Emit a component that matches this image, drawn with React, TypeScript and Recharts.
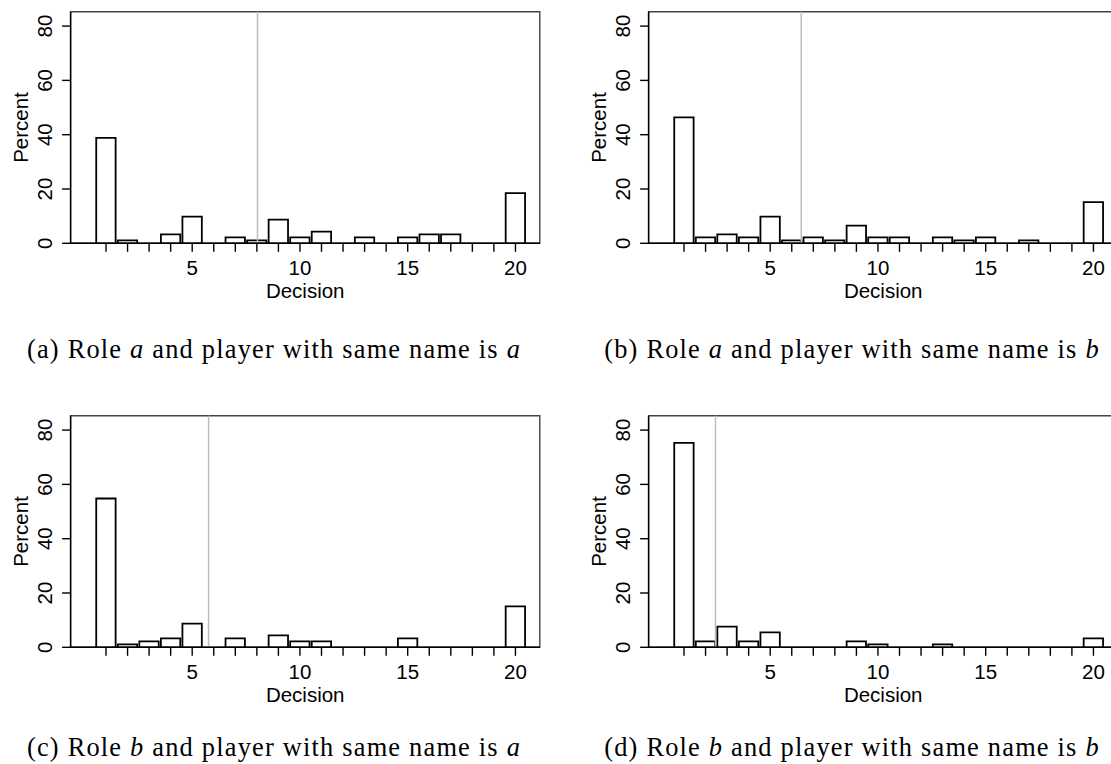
import React from 'react';
import { BarChart, Bar, XAxis, YAxis, ReferenceLine, ReferenceArea } from 'recharts';

// decision values 1..20, percent of subjects per decision
const decisions = [1, 2, 3, 4, 5, 6, 7, 8, 9, 10, 11, 12, 13, 14, 15, 16, 17, 18, 19, 20];
const yTicks = [0, 20, 40, 60, 80];
const labelledTicks = [5, 10, 15, 20];

const pctA = [38.8, 1.1, 0, 3.3, 9.8, 0, 2.2, 1.1, 8.7, 2.2, 4.3, 0, 2.2, 0, 2.2, 3.3, 3.3, 0, 0, 18.5];
const pctB = [46.4, 2.2, 3.3, 2.2, 9.8, 1.1, 2.2, 1.1, 6.5, 2.2, 2.2, 0, 2.2, 1.1, 2.2, 0, 1.1, 0, 0, 15.2];
const pctC = [54.8, 1.1, 2.2, 3.3, 8.7, 0, 3.3, 0, 4.4, 2.2, 2.2, 0, 0, 0, 3.3, 0, 0, 0, 0, 15.1];
const pctD = [75.3, 2.2, 7.6, 2.2, 5.5, 0, 0, 0, 2.2, 1.1, 0, 0, 1.1, 0, 0, 0, 0, 0, 0, 3.3];

// grey line = mean decision
const meanA = 8.03;
const meanB = 6.44;
const meanC = 5.76;
const meanD = 2.46;

const X_MIN = -0.643;
const X_MAX = 21.13;
const Y_MAX = 85.3;

const CHART_W = 545;
const CHART_H = 310;
const PLOT_LEFT = 70.6;
const PLOT_RIGHT = 539.8;
const PLOT_TOP = 11.7;
const PLOT_BOTTOM = 243.3;
const X_AXIS_H = 50;
const BAR_W = (PLOT_RIGHT - PLOT_LEFT) / (X_MAX - X_MIN);

const SANS = '"Liberation Sans", Arial, Helvetica, sans-serif';
const SERIF = '"Liberation Serif", "Times New Roman", serif';
const FONT = 20.5;

const YTick = (props: any) => {
  const { x, y, payload } = props;
  return (
    <text
      x={x}
      y={y}
      transform={`rotate(-90 ${x} ${y})`}
      textAnchor="middle"
      fontSize={FONT}
      fontFamily={SANS}
      fill="#000"
    >
      {payload.value}
    </text>
  );
};

interface PanelProps {
  left: number;
  top: number;
  values: number[];
  mean: number;
}

const Panel: React.FC<PanelProps> = ({ left, top, values, mean }) => {
  const data = decisions.map((d, i) => ({ decision: d, pct: values[i] }));
  const midX = (PLOT_LEFT + PLOT_RIGHT) / 2;
  const midY = (PLOT_TOP + PLOT_BOTTOM) / 2;

  return (
    <div style={{ position: 'absolute', left, top, width: CHART_W, height: CHART_H }}>
      <BarChart
        width={CHART_W}
        height={CHART_H}
        data={data}
        barCategoryGap={0}
        barGap={0}
        margin={{
          top: PLOT_TOP,
          right: CHART_W - PLOT_RIGHT,
          left: 0,
          bottom: CHART_H - PLOT_BOTTOM - X_AXIS_H,
        }}
      >
        <XAxis
          dataKey="decision"
          type="number"
          domain={[X_MIN, X_MAX]}
          allowDataOverflow
          ticks={decisions}
          interval={0}
          height={X_AXIS_H}
          tickSize={8.5}
          tickMargin={8.5}
          tickFormatter={(v: number) => (labelledTicks.includes(v) ? String(v) : '')}
          axisLine={{ stroke: '#000', strokeWidth: 1.4 }}
          tickLine={{ stroke: '#000', strokeWidth: 1.4 }}
          tick={{ fontSize: FONT, fill: '#000', fontFamily: SANS }}
        />
        <YAxis
          type="number"
          domain={[0, Y_MAX]}
          allowDataOverflow
          ticks={yTicks}
          interval={0}
          width={PLOT_LEFT}
          tickSize={8.5}
          tickMargin={10.3}
          axisLine={{ stroke: '#000', strokeWidth: 1.4 }}
          tickLine={{ stroke: '#000', strokeWidth: 1.4 }}
          tick={YTick}
        />
        <ReferenceArea
          x1={X_MIN}
          x2={X_MAX}
          y1={0}
          y2={Y_MAX}
          fill="none"
          stroke="#444"
          strokeWidth={1.4}
          ifOverflow="visible"
        />
        <Bar
          dataKey="pct"
          fill="#fff"
          stroke="#000"
          strokeWidth={1.8}
          barSize={BAR_W}
          isAnimationActive={false}
        />
        <ReferenceLine x={mean} stroke="#bdbdbd" strokeWidth={1.5} />
      </BarChart>
      <svg
        width={CHART_W}
        height={CHART_H}
        style={{ position: 'absolute', left: 0, top: 0, pointerEvents: 'none' }}
      >
        <text
          x={28.2}
          y={midY}
          transform={`rotate(-90 28.2 ${midY})`}
          textAnchor="middle"
          fontSize={FONT}
          fontFamily={SANS}
          fill="#000"
        >
          Percent
        </text>
        <text x={midX} y={298} textAnchor="middle" fontSize={FONT} fontFamily={SANS} fill="#000">
          Decision
        </text>
      </svg>
    </div>
  );
};

const Caption: React.FC<{ center: number; top: number; children: React.ReactNode }> = ({
  center,
  top,
  children,
}) => (
  <div
    style={{
      position: 'absolute',
      left: center - 300,
      top,
      width: 600,
      textAlign: 'center',
      fontFamily: SERIF,
      fontSize: 26.4,
      lineHeight: '30px',
      letterSpacing: 1.2,
      whiteSpace: 'nowrap',
      color: '#000',
    }}
  >
    {children}
  </div>
);

export default function App() {
  return (
    <div
      style={{
        position: 'absolute',
        left: 0,
        top: 0,
        width: 1111,
        height: 764,
        overflow: 'hidden',
        background: '#fff',
      }}
    >
      <Panel left={0} top={0} values={pctA} mean={meanA} />
      <Panel left={578.4} top={0} values={pctB} mean={meanB} />
      <Panel left={0} top={404} values={pctC} mean={meanC} />
      <Panel left={578.4} top={404} values={pctD} mean={meanD} />

      <Caption center={274} top={334}>
        (a) Role <i>a</i> and player with same name is <i>a</i>
      </Caption>
      <Caption center={852} top={334}>
        (b) Role <i>a</i> and player with same name is <i>b</i>
      </Caption>
      <Caption center={274} top={732}>
        (c) Role <i>b</i> and player with same name is <i>a</i>
      </Caption>
      <Caption center={852} top={732}>
        (d) Role <i>b</i> and player with same name is <i>b</i>
      </Caption>
    </div>
  );
}
